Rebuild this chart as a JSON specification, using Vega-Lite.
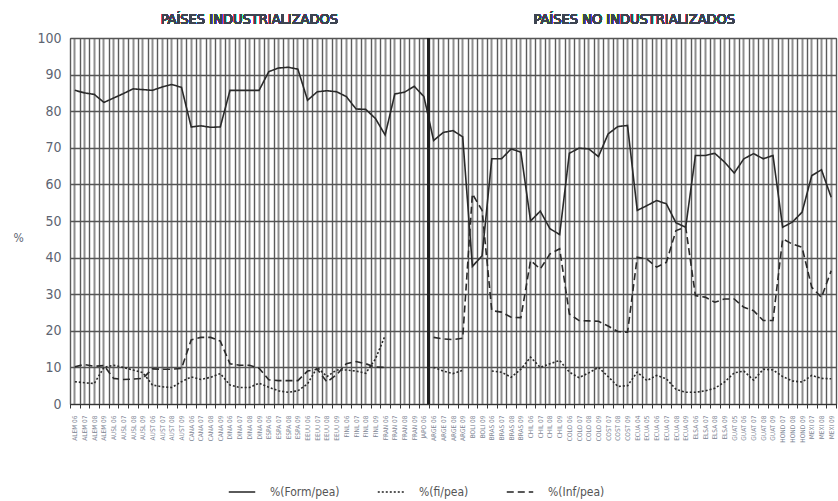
{
  "$schema": "https://vega.github.io/schema/vega-lite/v6.json",
  "width": 766,
  "height": 366,
  "autosize": "none",
  "padding": {"left": 70, "top": 38, "right": 2, "bottom": 97},
  "background": "white",
  "config": {
    "view": {"stroke": "#444", "strokeWidth": 1},
    "font": "DejaVu Sans Condensed, Liberation Sans, sans-serif",
    "axisY": {
      "values": [0, 10, 20, 30, 40, 50, 60, 70, 80, 90, 100],
      "ticks": false, "domain": false, "grid": true, "gridColor": "#555555", "gridWidth": 1.7,
      "labelFontSize": 14, "labelColor": "#5d6472", "labelPadding": 9, "labelOverlap": false
    }
  },
  "data": {
    "values": [
      {"pais": "ALEM 06", "form": 85.7, "fi": 6.1, "inf": 10.2},
      {"pais": "ALEM 07", "form": 85.0, "fi": 5.8, "inf": 10.8},
      {"pais": "ALEM 08", "form": 84.6, "fi": 5.6, "inf": 10.3},
      {"pais": "ALEM 09", "form": 82.4, "fi": 10.0, "inf": 10.5},
      {"pais": "AUSL 06", "form": 83.6, "fi": 10.6, "inf": 7.0},
      {"pais": "AUSL 07", "form": 84.8, "fi": 10.0, "inf": 6.7},
      {"pais": "AUSL 08", "form": 86.1, "fi": 9.3, "inf": 6.8},
      {"pais": "AUSL 09", "form": 85.9, "fi": 8.6, "inf": 7.0},
      {"pais": "AUST 06", "form": 85.7, "fi": 5.2, "inf": 9.6},
      {"pais": "AUST 07", "form": 86.6, "fi": 4.7, "inf": 9.5},
      {"pais": "AUST 08", "form": 87.3, "fi": 4.5, "inf": 9.5},
      {"pais": "AUST 09", "form": 86.5, "fi": 6.1, "inf": 9.7},
      {"pais": "CANA 06", "form": 75.7, "fi": 7.4, "inf": 17.5},
      {"pais": "CANA 07", "form": 76.0, "fi": 6.7, "inf": 18.2},
      {"pais": "CANA 08", "form": 75.6, "fi": 7.3, "inf": 18.2},
      {"pais": "CANA 09", "form": 75.7, "fi": 8.3, "inf": 17.2},
      {"pais": "DINA 06", "form": 85.7, "fi": 5.2, "inf": 11.0},
      {"pais": "DINA 07", "form": 85.7, "fi": 4.5, "inf": 10.6},
      {"pais": "DINA 08", "form": 85.7, "fi": 4.5, "inf": 10.6},
      {"pais": "DINA 09", "form": 85.7, "fi": 5.7, "inf": 9.8},
      {"pais": "ESPA 06", "form": 90.8, "fi": 4.6, "inf": 6.6},
      {"pais": "ESPA 07", "form": 91.8, "fi": 3.6, "inf": 6.4},
      {"pais": "ESPA 08", "form": 92.0, "fi": 3.2, "inf": 6.4},
      {"pais": "ESPA 09", "form": 91.5, "fi": 3.6, "inf": 6.4},
      {"pais": "EEUU 06", "form": 83.0, "fi": 5.5, "inf": 9.0},
      {"pais": "EEUU 07", "form": 85.3, "fi": 10.0, "inf": 9.5},
      {"pais": "EEUU 08", "form": 85.6, "fi": 7.5, "inf": 6.0},
      {"pais": "EEUU 09", "form": 85.3, "fi": 9.3, "inf": 8.0},
      {"pais": "FINL 06", "form": 84.0, "fi": 9.3, "inf": 11.0},
      {"pais": "FINL 07", "form": 80.6, "fi": 9.0, "inf": 11.6},
      {"pais": "FINL 08", "form": 80.5, "fi": 8.4, "inf": 11.0},
      {"pais": "FINL 09", "form": 78.0, "fi": 12.3, "inf": 10.1},
      {"pais": "FRAN 06", "form": 73.5, "fi": 18.7, "inf": 10.0},
      {"pais": "FRAN 07", "form": 84.7, "fi": null, "inf": null},
      {"pais": "FRAN 08", "form": 85.2, "fi": null, "inf": null},
      {"pais": "FRAN 09", "form": 86.8, "fi": null, "inf": null},
      {"pais": "JAPO 06", "form": 84.0, "fi": null, "inf": null},
      {"pais": "ARGE 06", "form": 72.0, "fi": 10.0, "inf": 18.2},
      {"pais": "ARGE 07", "form": 74.2, "fi": 9.0, "inf": 17.8},
      {"pais": "ARGE 08", "form": 74.7, "fi": 8.3, "inf": 17.6},
      {"pais": "ARGE 09", "form": 73.0, "fi": 9.2, "inf": 18.0},
      {"pais": "BOLI 08", "form": 37.6, "fi": null, "inf": 57.4},
      {"pais": "BOLI 09", "form": 40.5, "fi": null, "inf": 52.9},
      {"pais": "BRAS 06", "form": 67.0, "fi": 9.0, "inf": 25.5},
      {"pais": "BRAS 07", "form": 67.0, "fi": 8.7, "inf": 25.1},
      {"pais": "BRAS 08", "form": 69.7, "fi": 7.3, "inf": 23.7},
      {"pais": "BRAS 09", "form": 68.8, "fi": 9.5, "inf": 23.6},
      {"pais": "CHIL 06", "form": 50.0, "fi": 12.8, "inf": 39.2},
      {"pais": "CHIL 07", "form": 52.7, "fi": 10.0, "inf": 36.9},
      {"pais": "CHIL 08", "form": 47.9, "fi": 11.0, "inf": 41.0},
      {"pais": "CHIL 09", "form": 46.3, "fi": 11.9, "inf": 42.4},
      {"pais": "COLO 06", "form": 68.5, "fi": 8.7, "inf": 24.6},
      {"pais": "COLO 07", "form": 69.9, "fi": 7.2, "inf": 22.8},
      {"pais": "COLO 08", "form": 69.7, "fi": 8.5, "inf": 22.7},
      {"pais": "COLO 09", "form": 67.6, "fi": 10.0, "inf": 22.6},
      {"pais": "COST 07", "form": 73.8, "fi": 7.5, "inf": 21.3},
      {"pais": "COST 08", "form": 75.8, "fi": 4.8, "inf": 19.8},
      {"pais": "COST 09", "form": 76.1, "fi": 5.0, "inf": 19.6},
      {"pais": "ECUA 04", "form": 52.9, "fi": 8.7, "inf": 40.1},
      {"pais": "ECUA 05", "form": 54.2, "fi": 6.4, "inf": 39.6},
      {"pais": "ECUA 06", "form": 55.6, "fi": 7.8, "inf": 37.4},
      {"pais": "ECUA 07", "form": 54.7, "fi": 6.9, "inf": 38.7},
      {"pais": "ECUA 08", "form": 49.5, "fi": 4.0, "inf": 47.4},
      {"pais": "ECUA 09", "form": 48.3, "fi": 3.2, "inf": 48.3},
      {"pais": "ELSA 06", "form": 67.9, "fi": 3.2, "inf": 29.6},
      {"pais": "ELSA 07", "form": 67.9, "fi": 3.6, "inf": 29.2},
      {"pais": "ELSA 08", "form": 68.5, "fi": 4.3, "inf": 27.8},
      {"pais": "ELSA 09", "form": 66.1, "fi": 6.0, "inf": 28.7},
      {"pais": "GUAT 05", "form": 63.1, "fi": 8.5, "inf": 28.7},
      {"pais": "GUAT 06", "form": 67.0, "fi": 9.0, "inf": 26.4},
      {"pais": "GUAT 07", "form": 68.4, "fi": 6.5, "inf": 25.5},
      {"pais": "GUAT 08", "form": 67.0, "fi": 9.5, "inf": 22.8},
      {"pais": "GUAT 09", "form": 67.9, "fi": 9.3, "inf": 22.8},
      {"pais": "HOND 07", "form": 48.3, "fi": 7.5, "inf": 45.1},
      {"pais": "HOND 08", "form": 49.7, "fi": 6.3, "inf": 43.7},
      {"pais": "HOND 09", "form": 52.4, "fi": 6.0, "inf": 42.8},
      {"pais": "MEXI 07", "form": 62.4, "fi": 7.8, "inf": 31.9},
      {"pais": "MEXI 08", "form": 64.0, "fi": 7.0, "inf": 29.1},
      {"pais": "MEXI 09", "form": 56.5, "fi": 6.9, "inf": 36.4}
    ]
  },
  "resolve": {"axis": {"x": "independent"}},
  "layer": [
    {
      "mark": {"type": "rule", "opacity": 0},
      "encoding": {
        "x": {
          "field": "pais", "type": "ordinal", "sort": null,
          "scale": {"paddingInner": 0, "paddingOuter": 0},
          "axis": {
            "orient": "top", "labels": false, "ticks": false, "domain": false, "title": null,
            "grid": true, "gridColor": "#8e8e8e", "gridWidth": 2, "bandPosition": 0.5
          }
        }
      }
    },
    {
      "transform": [{"fold": ["form", "fi", "inf"], "as": ["serie", "valor"]}],
      "mark": {"type": "line", "color": "#2a2a2a", "strokeWidth": 1.6, "invalid": "break-paths-show-domains"},
      "encoding": {
        "x": {
          "field": "pais", "type": "ordinal", "sort": null,
          "scale": {"paddingInner": 0, "paddingOuter": 0},
          "axis": {
            "title": null, "labelAngle": 270, "labelFontSize": 6.5, "labelColor": "#7d8594",
            "labelPadding": 7, "tickColor": "#333", "tickSize": 4, "tickBand": "extent",
            "domainColor": "#333", "grid": true, "gridColor": "#5a5a5a", "gridWidth": 1.4
          }
        },
        "y": {
          "field": "valor", "type": "quantitative",
          "scale": {"domain": [0, 100]},
          "axis": {
            "title": "%", "titleAngle": 0, "titleFontSize": 12, "titleFontWeight": "normal",
            "titleColor": "#5d6472", "titleX": -52, "titleY": 199, "titleAlign": "center", "titleBaseline": "middle"
          }
        },
        "strokeDash": {
          "field": "serie", "type": "nominal",
          "scale": {"domain": ["form", "fi", "inf"], "range": [[1, 0], [2, 2], [7, 4]]},
          "legend": {
            "title": null, "orient": "none", "direction": "horizontal", "legendX": 158, "legendY": 440,
            "symbolType": "stroke", "symbolSize": 700, "symbolStrokeWidth": 1.5, "symbolStrokeColor": "#222",
            "labelFontSize": 12, "labelColor": "#555", "labelOffset": 14, "columnPadding": 34,
            "labelExpr": "datum.label == 'form' ? '%(Form/pea)' : datum.label == 'fi' ? '%(fi/pea)' : '%(Inf/pea)'"
          }
        }
      }
    },
    {
      "mark": {"type": "rule", "color": "#222", "strokeWidth": 2},
      "encoding": {"x": {"datum": "ARGE 06", "type": "ordinal", "bandPosition": 0, "axis": null}}
    },
    {
      "mark": {"type": "text", "fontSize": 14.5, "color": "#3d4451", "baseline": "middle"},
      "encoding": {
        "x": {"datum": "DINA 08", "type": "ordinal", "bandPosition": 0.5, "axis": null},
        "y": {"datum": 105, "type": "quantitative", "axis": {"title": "%"}},
        "text": {"value": "PAÍSES INDUSTRIALIZADOS"}
      }
    },
    {
      "mark": {"type": "text", "fontSize": 14.5, "color": "#3d4451", "baseline": "middle"},
      "encoding": {
        "x": {"datum": "ECUA 04", "type": "ordinal", "bandPosition": 0.2, "axis": null},
        "y": {"datum": 105, "type": "quantitative", "axis": {"title": "%"}},
        "text": {"value": "PAÍSES NO INDUSTRIALIZADOS"}
      }
    }
  ]
}
